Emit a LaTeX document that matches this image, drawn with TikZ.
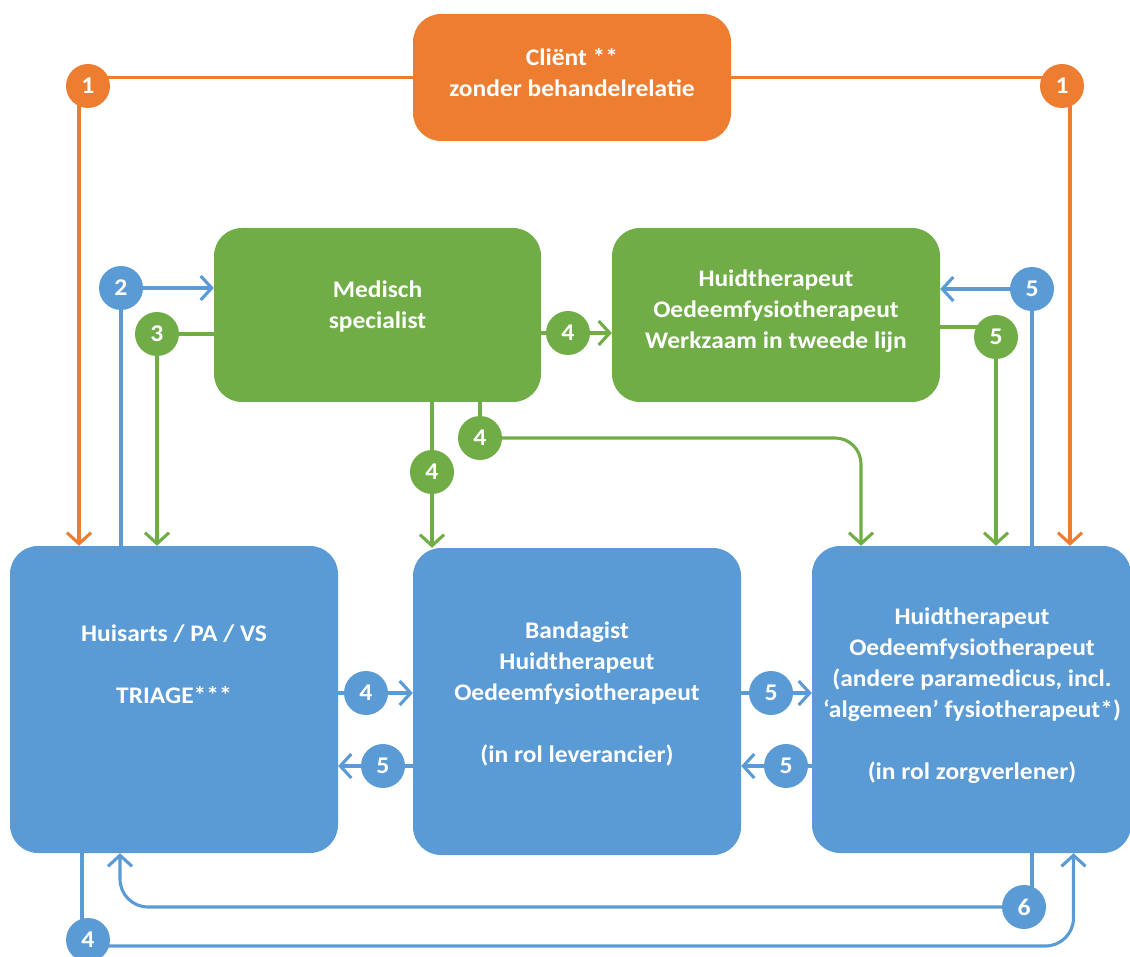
\documentclass[tikz,border=0pt]{standalone}
\usepackage{fontspec}
\setmainfont{Carlito}[FakeStretch=1.07]
\usetikzlibrary{arrows.meta,backgrounds}
\definecolor{cOr}{HTML}{ED7D31}
\definecolor{cGr}{HTML}{70AD47}
\definecolor{cBl}{HTML}{5B9BD5}
\begin{document}
\begin{tikzpicture}[x=1pt,y=-1pt,
  box/.style={rectangle,rounded corners=28pt,inner sep=0pt},
  obox/.style={box,fill=cOr},
  gbox/.style={box,fill=cGr},
  bbox/.style={box,fill=cBl},
  txt/.style={text=white,align=center,font=\bfseries\fontsize{23.8}{31}\selectfont,inner sep=0pt},
  num/.style={circle,inner sep=0pt,minimum size=44pt,text=white,font=\bfseries\fontsize{24}{24}\selectfont},
  onum/.style={num,fill=cOr},
  gnum/.style={num,fill=cGr},
  bnum/.style={num,fill=cBl},
  ln/.style={line width=3.1pt},
  ol/.style={ln,draw=cOr},
  gl/.style={ln,draw=cGr},
  bl/.style={ln,draw=cBl},
  tip/.style={-{Straight Barb[length=11pt,width=24pt]}},
]
\useasboundingbox (0,0) rectangle (1130,957);
% boxes
\node[obox,minimum width=318pt,minimum height=127pt] (cli) at (572,77.5) {};
\node[gbox,minimum width=327pt,minimum height=174pt] (ms) at (377.5,315) {};
\node[gbox,minimum width=328pt,minimum height=174pt] (ht2) at (776,315) {};
\node[bbox,minimum width=328pt,minimum height=307pt] (hu) at (174,699.5) {};
\node[bbox,minimum width=328pt,minimum height=307pt] (bd) at (577,701.5) {};
\node[bbox,minimum width=319pt,minimum height=307pt] (zv) at (971.5,699.5) {};
% texts
\node[txt] (clit) at (572,72.5) {Cliënt **\\zonder behandelrelatie};
\node[txt] (mst) at (377.5,306.5) {Medisch\\specialist};
\node[txt] (ht2t) at (776,311) {Huidtherapeut\\Oedeemfysiotherapeut\\Werkzaam in tweede lijn};
\node[txt] (hut) at (174,664) {Huisarts / PA / VS\\[31pt]TRIAGE***};
\node[txt] (bdt) at (577,693.5) {Bandagist\\Huidtherapeut\\Oedeemfysiotherapeut\\[31pt](in rol leverancier)};
\node[txt] (zvt) at (972,695.5) {Huidtherapeut\\Oedeemfysiotherapeut\\(andere paramedicus, incl.\\‘algemeen’ fysiotherapeut*)\\[31pt](in rol zorgverlener)};
% number circles
\node[onum] (c1l) at (88,86) {1};
\node[onum] (c1r) at (1062,86) {1};
\node[bnum] (c2) at (121,288) {2};
\node[gnum] (c3) at (157,334) {3};
\node[gnum] (c4a) at (568,333) {4};
\node[bnum] (c5a) at (1032,289) {5};
\node[gnum] (c5b) at (996,337) {5};
\node[gnum] (c4b) at (432,472) {4};
\node[gnum] (c4c) at (480,438) {4};
\node[bnum] (c4d) at (366,693) {4};
\node[bnum] (c5c) at (383,766) {5};
\node[bnum] (c5d) at (771,693) {5};
\node[bnum] (c5e) at (786,766) {5};
\node[bnum] (c6) at (1024,907) {6};
\node[bnum] (c4e) at (88,940) {4};
% helper coordinates
\coordinate (o1) at ([xshift=-9pt]c1l.center);
\coordinate (o2) at ([xshift=8pt]c1r.center);
\coordinate (g5) at ([yshift=10pt]c5b.center);
\coordinate (g4t) at ([xshift=-110.5pt]zv.north);
\coordinate (b6) at ([xshift=8pt]c6.center);
\coordinate (b6t) at ([xshift=-54pt]hu.south);
\coordinate (b4) at ([xshift=-6pt]c4e.center);
\coordinate (b4s) at ([yshift=-6pt]c4e.center);
\coordinate (b4t) at ([xshift=102pt]zv.south);
\begin{pgfonlayer}{background}
% orange
\draw[ol] (cli.west) -- (c1l |- cli.west);
\draw[ol,tip] (o1) -- (o1 |- hu.north);
\draw[ol] (cli.east) -- (c1r |- cli.east);
\draw[ol,tip] (o2) -- (o2 |- zv.north);
% top row
\draw[bl] (c2 |- hu.north) -- (c2);
\draw[bl,tip] (c2) -- (c2 -| ms.west);
\draw[gl] (c3 -| ms.west) -- (c3);
\draw[gl,tip] (c3) -- (c3 |- hu.north);
\draw[gl] (c4a -| ms.east) -- (c4a);
\draw[gl,tip] (c4a) -- (c4a -| ht2.west);
\draw[bl] (c5a |- zv.north) -- (c5a);
\draw[bl,tip] (c5a) -- (c5a -| ht2.east);
\draw[gl] (g5 -| ht2.east) -- (g5);
\draw[gl,tip] (c5b) -- (c5b |- zv.north);
\draw[gl,tip] (c4b |- ms.south) -- (c4b |- bd.north);
\draw[gl] (c4c |- ms.south) -- (c4c);
\draw[gl,tip,rounded corners=26pt] (c4c) -| (g4t);
% middle row
\draw[bl] (c4d -| hu.east) -- (c4d);
\draw[bl,tip] (c4d) -- (c4d -| bd.west);
\draw[bl] (c5c -| bd.west) -- (c5c);
\draw[bl,tip] (c5c) -- (c5c -| hu.east);
\draw[bl] (c5d -| bd.east) -- (c5d);
\draw[bl,tip] (c5d) -- (c5d -| zv.west);
\draw[bl] (c5e -| zv.west) -- (c5e);
\draw[bl,tip] (c5e) -- (c5e -| bd.east);
% bottom
\draw[bl] (b6 |- zv.south) -- (b6);
\draw[bl,tip,rounded corners=28pt] (c6) -| (b6t);
\draw[bl] (b4 |- hu.south) -- (b4);
\draw[bl,tip,rounded corners=28pt] (b4s) -| (b4t);
\end{pgfonlayer}
\end{tikzpicture}
\end{document}
